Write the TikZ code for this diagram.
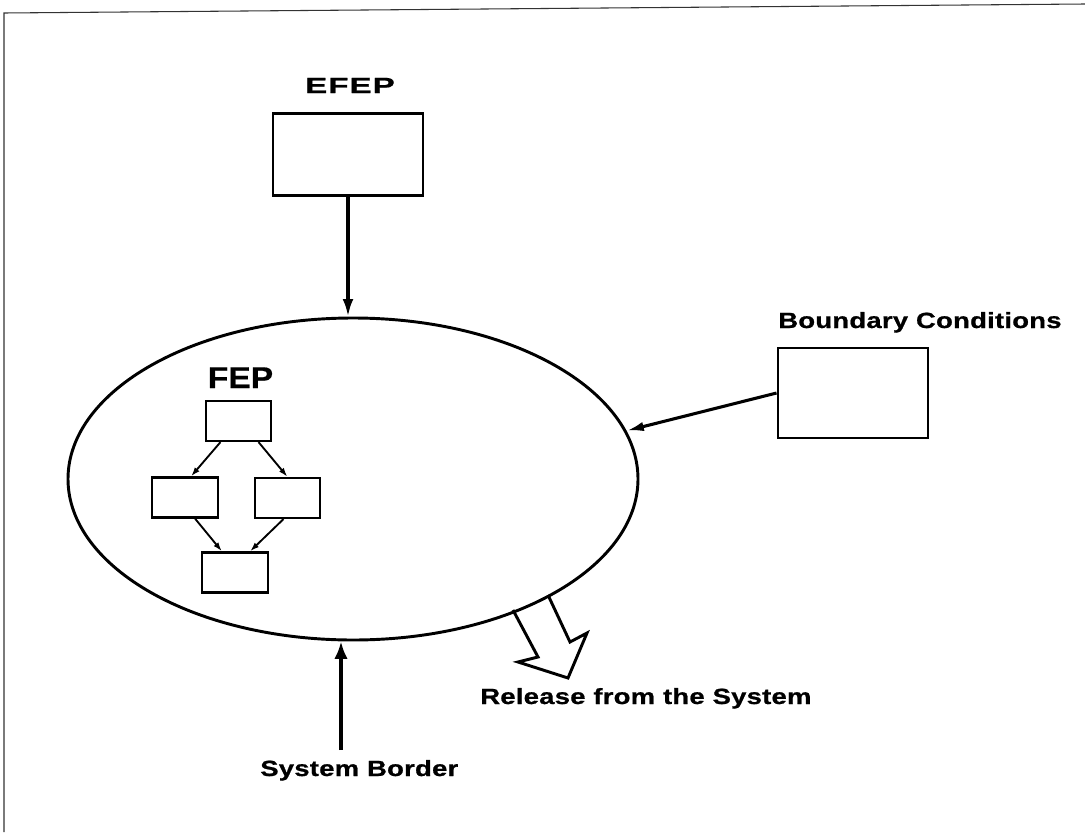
\documentclass[tikz,border=0pt]{standalone}
\usepackage{fontspec}
\setmainfont{Liberation Sans}
\newfontfamily\lblfont{Liberation Sans Bold}[FakeStretch=1.25,LetterSpace=1,FakeBold=0.8]
\newfontfamily\lblwidefont{Liberation Sans Bold}[FakeStretch=1.5,LetterSpace=5,FakeBold=0.8]
\newfontfamily\fepfont{Liberation Sans Bold}[FakeStretch=1.12,FakeBold=0.6]
\usetikzlibrary{arrows.meta,calc,shapes.geometric}
\begin{document}
\begin{tikzpicture}[x=0.75pt,y=-0.75pt,
  lbl/.style={inner sep=0pt,font=\lblfont\fontsize{16.5pt}{18pt}\selectfont},
  bigbox/.style={draw,line width=2.2pt,inner sep=0pt},
  smallbox/.style={draw,line width=1.6pt,minimum width=49pt,minimum height=30pt,inner sep=0pt},
  bigarrow/.style={line width=2.3pt,-{Latex[length=13pt,width=8pt]}},
  smallarrow/.style={line width=1.4pt,-{Latex[length=7pt,width=4.5pt]}},
  frameline/.style={line width=0.8pt,black!80}]
\useasboundingbox (0,0) rectangle (1085,832);
% page frame (top and left only)
\draw[frameline] (1085,4) -- (4,13) -- (4,832);

% system ellipse
\node[ellipse,draw,line width=2.2pt,minimum width=427.5pt,minimum height=241.5pt,inner sep=0pt] (ell) at (353,479) {};

% EFEP
\node[lbl,font=\lblwidefont\fontsize{16.5pt}{18pt}\selectfont,anchor=base] (efeplbl) at (350,93) {EFEP};
\node[bigbox,minimum width=112.5pt,minimum height=62pt] (efep) at (348,154.5) {};
\draw[bigarrow] (efep.south) -- (efep.south |- ell.north);

% Boundary conditions
\node[lbl,anchor=base west] (bclbl) at (778,328) {Boundary Conditions};
\node[bigbox,minimum width=112.5pt,minimum height=67.5pt] (bc) at (853,393) {};
\draw[bigarrow,-{Latex[length=13pt,width=7pt]}] (bc.west) -- (ell.10);

% FEP
\node[inner sep=0pt,font=\fepfont\fontsize{22.5pt}{24pt}\selectfont,anchor=base] (feplbl) at (240.5,388) {FEP};
\node[smallbox] (fa) at (238.5,421) {};
\node[smallbox] (fb) at (185,497.5) {};
\node[smallbox] (fc) at (287.5,498) {};
\node[smallbox] (fd) at (235,572.5) {};
\draw[smallarrow] ($(fa.south)+(-18,0)$) -- ($(fb.north)+(6,0)$);
\draw[smallarrow] ($(fa.south)+(20,0)$) -- ($(fc.north)+(0,0)$);
\draw[smallarrow] ($(fb.south)+(10,0)$) -- ($(fd.north)+(-13,0)$);
\draw[smallarrow] ($(fc.south)+(-4,0)$) -- ($(fd.north)+(15,0)$);

% release from the system (hollow arrow)
\draw[line width=2.2pt,line join=miter] (513,610) -- (538,657) -- (518,662) -- (568,678) -- (587,633) -- (570,642) -- (548,595);
\node[lbl,anchor=base west] (rel) at (480,704) {Release from the System};

% system border
\node[lbl,anchor=base west] (sb) at (260,776) {System Border};
\coordinate (sbtail) at (341,750);
\draw[bigarrow,-{Latex[length=13pt,width=10pt]}] (sbtail) -- (sbtail |- ell.south);
\end{tikzpicture}
\end{document}
